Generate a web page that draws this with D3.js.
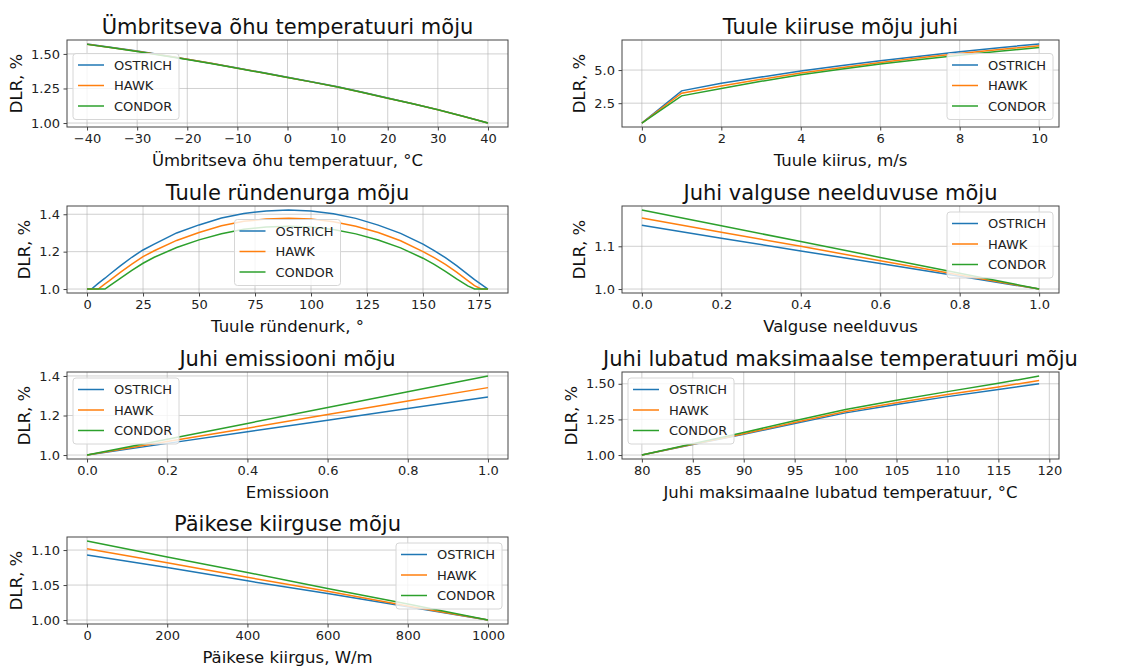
<!DOCTYPE html>
<html>
<head>
<meta charset="utf-8">
<script src="https://cdn.jsdelivr.net/npm/d3@7"></script>
<style>
  body { margin: 0; background: #fff; }
  svg { font-family: "DejaVu Sans", sans-serif; }
</style>
</head>
<body>
<div id="chart"></div>
<script>
const seriesNames = ["OSTRICH", "HAWK", "CONDOR"];
const colors = ["#1f77b4", "#ff7f0e", "#2ca02c"];

// Ümbritseva õhu temperatuur
const tempX = [-40, -35, -30, -25, -20, -15, -10, -5, 0, 5, 10, 15, 20, 25, 30, 35, 40];
const tempOstrich = [1.572, 1.547, 1.521, 1.492, 1.462, 1.431, 1.398, 1.365, 1.331, 1.297, 1.262, 1.222, 1.181, 1.140, 1.097, 1.050, 1.0];
const tempHawk    = [1.570, 1.545, 1.519, 1.490, 1.461, 1.430, 1.397, 1.364, 1.330, 1.296, 1.261, 1.221, 1.180, 1.139, 1.096, 1.049, 1.0];
const tempCondor  = [1.569, 1.544, 1.518, 1.489, 1.460, 1.429, 1.396, 1.363, 1.330, 1.296, 1.261, 1.221, 1.180, 1.139, 1.096, 1.049, 1.0];

// Tuule kiirus
const windX = [0, 1, 2, 3, 4, 5, 6, 7, 8, 9, 10];
const windOstrich = [1.0, 3.43, 4.00, 4.47, 4.92, 5.32, 5.70, 6.05, 6.39, 6.69, 6.97];
const windHawk    = [1.0, 3.25, 3.80, 4.30, 4.78, 5.18, 5.57, 5.92, 6.25, 6.55, 6.83];
const windCondor  = [1.0, 3.05, 3.60, 4.15, 4.65, 5.06, 5.45, 5.80, 6.12, 6.42, 6.70];

// Tuule ründenurk
const angleX = [0, 2, 5, 8, 10, 15, 20, 25, 30, 40, 50, 60, 70, 80, 90, 100, 110, 120, 130, 140, 150, 155, 160, 165, 170, 173, 176, 179];
const angleOstrich = [1.0, 1.0, 1.03, 1.058, 1.078, 1.125, 1.17, 1.209, 1.24, 1.30, 1.343, 1.38, 1.404, 1.418, 1.423, 1.418, 1.403, 1.378, 1.342, 1.298, 1.24, 1.205, 1.168, 1.125, 1.078, 1.05, 1.025, 1.0];
const angleHawk    = [1.0, 1.0, 1.0, 1.028, 1.045, 1.09, 1.133, 1.173, 1.205, 1.26, 1.302, 1.338, 1.362, 1.374, 1.378, 1.374, 1.36, 1.336, 1.302, 1.258, 1.20, 1.168, 1.132, 1.09, 1.045, 1.018, 1.0, 1.0];
const angleCondor  = [1.0, 1.0, 1.0, 1.0, 1.017, 1.058, 1.10, 1.138, 1.17, 1.222, 1.263, 1.296, 1.32, 1.332, 1.336, 1.332, 1.318, 1.295, 1.262, 1.22, 1.165, 1.132, 1.095, 1.055, 1.017, 1.0, 1.0, 1.0];

// Valguse neelduvus
const absorbX = [0, 0.2, 0.4, 0.6, 0.8, 1.0];
const absorbOstrich = [1.149, 1.119, 1.089, 1.060, 1.030, 1.0];
const absorbHawk    = [1.166, 1.133, 1.100, 1.066, 1.033, 1.0];
const absorbCondor  = [1.185, 1.148, 1.111, 1.074, 1.037, 1.0];

// Emissioon
const emisX = [0, 0.2, 0.4, 0.6, 0.8, 1.0];
const emisOstrich = [1.0, 1.059, 1.118, 1.176, 1.235, 1.294];
const emisHawk    = [1.0, 1.068, 1.136, 1.205, 1.273, 1.341];
const emisCondor  = [1.0, 1.080, 1.160, 1.240, 1.320, 1.400];

// Juhi maksimaalne lubatud temperatuur
const maxTX = [80, 85, 90, 95, 100, 105, 110, 115, 119];
const maxTOstrich = [1.0, 1.074, 1.145, 1.222, 1.296, 1.355, 1.410, 1.460, 1.500];
const maxTHawk    = [1.0, 1.076, 1.150, 1.228, 1.305, 1.367, 1.425, 1.478, 1.523];
const maxTCondor  = [1.0, 1.080, 1.158, 1.240, 1.320, 1.385, 1.445, 1.503, 1.555];

// Päikese kiirgus
const solarX = [0, 200, 400, 600, 800, 1000];
const solarOstrich = [1.093, 1.075, 1.056, 1.038, 1.019, 1.0];
const solarHawk    = [1.102, 1.082, 1.061, 1.041, 1.020, 1.0];
const solarCondor  = [1.113, 1.090, 1.068, 1.045, 1.023, 1.0];

const panels = [
  { title: "Ümbritseva õhu temperatuuri mõju", xlabel: "Ümbritseva õhu temperatuur, °C",
    x: tempX, ys: [tempOstrich, tempHawk, tempCondor],
    xTicks: [-40, -30, -20, -10, 0, 10, 20, 30, 40], xFmt: "d",
    yTicks: [1.0, 1.25, 1.5], yFmt: ".2f", col: 0, row: 0, legend: "center left" },
  { title: "Tuule kiiruse mõju juhi", xlabel: "Tuule kiirus, m/s",
    x: windX, ys: [windOstrich, windHawk, windCondor],
    xTicks: [0, 2, 4, 6, 8, 10], xFmt: "d",
    yTicks: [2.5, 5.0], yFmt: ".1f", col: 1, row: 0, legend: "center right" },
  { title: "Tuule ründenurga mõju", xlabel: "Tuule ründenurk, °",
    x: angleX, ys: [angleOstrich, angleHawk, angleCondor],
    xTicks: [0, 25, 50, 75, 100, 125, 150, 175], xFmt: "d",
    yTicks: [1.0, 1.2, 1.4], yFmt: ".1f", col: 0, row: 1, legend: "center" },
  { title: "Juhi valguse neelduvuse mõju", xlabel: "Valguse neelduvus",
    x: absorbX, ys: [absorbOstrich, absorbHawk, absorbCondor],
    xTicks: [0, 0.2, 0.4, 0.6, 0.8, 1.0], xFmt: ".1f",
    yTicks: [1.0, 1.1], yFmt: ".1f", col: 1, row: 1, legend: "upper right" },
  { title: "Juhi emissiooni mõju", xlabel: "Emissioon",
    x: emisX, ys: [emisOstrich, emisHawk, emisCondor],
    xTicks: [0, 0.2, 0.4, 0.6, 0.8, 1.0], xFmt: ".1f",
    yTicks: [1.0, 1.2, 1.4], yFmt: ".1f", col: 0, row: 2, legend: "upper left" },
  { title: "Juhi lubatud maksimaalse temperatuuri mõju", xlabel: "Juhi maksimaalne lubatud temperatuur, °C",
    x: maxTX, ys: [maxTOstrich, maxTHawk, maxTCondor],
    xTicks: [80, 85, 90, 95, 100, 105, 110, 115, 120], xFmt: "d",
    yTicks: [1.0, 1.25, 1.5], yFmt: ".2f", col: 1, row: 2, legend: "upper left" },
  { title: "Päikese kiirguse mõju", xlabel: "Päikese kiirgus, W/m",
    x: solarX, ys: [solarOstrich, solarHawk, solarCondor],
    xTicks: [0, 200, 400, 600, 800, 1000], xFmt: "d",
    yTicks: [1.0, 1.05, 1.1], yFmt: ".2f", col: 0, row: 3, legend: "upper right" }
];

const W = 1144, H = 666;
const colLeft = [67, 622], colWidth = [441, 437];
const rowTop = [40, 206, 372, 537], rowHeight = 87;

const svg = d3.select("#chart").append("svg")
  .attr("width", W).attr("height", H);

function padded(ext) {
  const r = ext[1] - ext[0];
  return [ext[0] - 0.05 * r, ext[1] + 0.05 * r];
}

panels.forEach(function(p) {
  const left = colLeft[p.col], top = rowTop[p.row];
  const w = colWidth[p.col], h = rowHeight;

  const allY = [].concat.apply([], p.ys);
  const x = d3.scaleLinear().domain(padded(d3.extent(p.x))).range([0, w]);
  const y = d3.scaleLinear().domain(padded(d3.extent(allY))).range([h, 0]);

  const g = svg.append("g").attr("transform", "translate(" + left + "," + top + ")");

  // grid
  g.append("g").selectAll("line").data(p.xTicks).join("line")
    .attr("x1", function(d) { return x(d); }).attr("x2", function(d) { return x(d); })
    .attr("y1", 0).attr("y2", h)
    .attr("stroke", "#b0b0b0").attr("stroke-opacity", 0.6).attr("stroke-width", 1);
  g.append("g").selectAll("line").data(p.yTicks).join("line")
    .attr("y1", function(d) { return y(d); }).attr("y2", function(d) { return y(d); })
    .attr("x1", 0).attr("x2", w)
    .attr("stroke", "#b0b0b0").attr("stroke-opacity", 0.6).attr("stroke-width", 1);

  // axes
  const xAxis = g.append("g").attr("transform", "translate(0," + h + ")")
    .call(d3.axisBottom(x).tickValues(p.xTicks).tickFormat(d3.format(p.xFmt)).tickSize(3.5).tickPadding(3.5));
  const yAxis = g.append("g")
    .call(d3.axisLeft(y).tickValues(p.yTicks).tickFormat(d3.format(p.yFmt)).tickSize(3.5).tickPadding(3.5));
  [xAxis, yAxis].forEach(function(a) {
    a.select(".domain").remove();
    a.selectAll(".tick line").attr("stroke", "#444");
    a.selectAll(".tick text").attr("fill", "#222").style("font-size", "13px")
      .style("font-family", "DejaVu Sans, sans-serif");
  });

  // lines
  const line = d3.line()
    .x(function(d) { return x(d[0]); })
    .y(function(d) { return y(d[1]); });
  p.ys.forEach(function(ys, i) {
    g.append("path")
      .datum(p.x.map(function(xv, j) { return [xv, ys[j]]; }))
      .attr("fill", "none")
      .attr("stroke", colors[i])
      .attr("stroke-width", 1.5)
      .attr("d", line);
  });

  // frame
  g.append("rect").attr("width", w).attr("height", h)
    .attr("fill", "none").attr("stroke", "#444").attr("stroke-width", 1);

  // title
  g.append("text").attr("x", w / 2).attr("y", -6)
    .attr("text-anchor", "middle").attr("fill", "#111")
    .style("font-size", "21px").text(p.title);

  // x label
  g.append("text").attr("x", w / 2).attr("y", h + 39)
    .attr("text-anchor", "middle").attr("fill", "#111")
    .style("font-size", "16.5px").text(p.xlabel);

  // y label, placed left of the widest tick label
  let tickW = 0;
  yAxis.selectAll(".tick text").each(function() {
    tickW = Math.max(tickW, this.getBBox().width);
  });
  const ylx = -7 - tickW - 5 - 4;
  g.append("text")
    .attr("transform", "translate(" + ylx + "," + (h / 2) + ") rotate(-90)")
    .attr("text-anchor", "middle").attr("fill", "#111")
    .style("font-size", "16.5px").text("DLR, %");

  // legend
  const lw = 106, lh = 66, pad = 6;
  let lx, ly;
  if (p.legend.indexOf("left") >= 0) lx = pad;
  else if (p.legend.indexOf("right") >= 0) lx = w - pad - lw;
  else lx = (w - lw) / 2;
  if (p.legend.indexOf("upper") >= 0) ly = pad;
  else ly = (h - lh) / 2 + 3;

  const lg = g.append("g").attr("transform", "translate(" + lx + "," + ly + ")");
  lg.append("rect").attr("width", lw).attr("height", lh)
    .attr("rx", 3).attr("fill", "#fff").attr("fill-opacity", 0.8)
    .attr("stroke", "#d6d6d6").attr("stroke-width", 1);
  seriesNames.forEach(function(name, i) {
    const ry = 11.5 + i * 20.5;
    lg.append("line").attr("x1", 5).attr("x2", 31)
      .attr("y1", ry).attr("y2", ry)
      .attr("stroke", colors[i]).attr("stroke-width", 1.5);
    lg.append("text").attr("x", 41).attr("y", ry)
      .attr("dy", "0.36em").attr("fill", "#222")
      .style("font-size", "13px").text(name);
  });
});
</script>
</body>
</html>
